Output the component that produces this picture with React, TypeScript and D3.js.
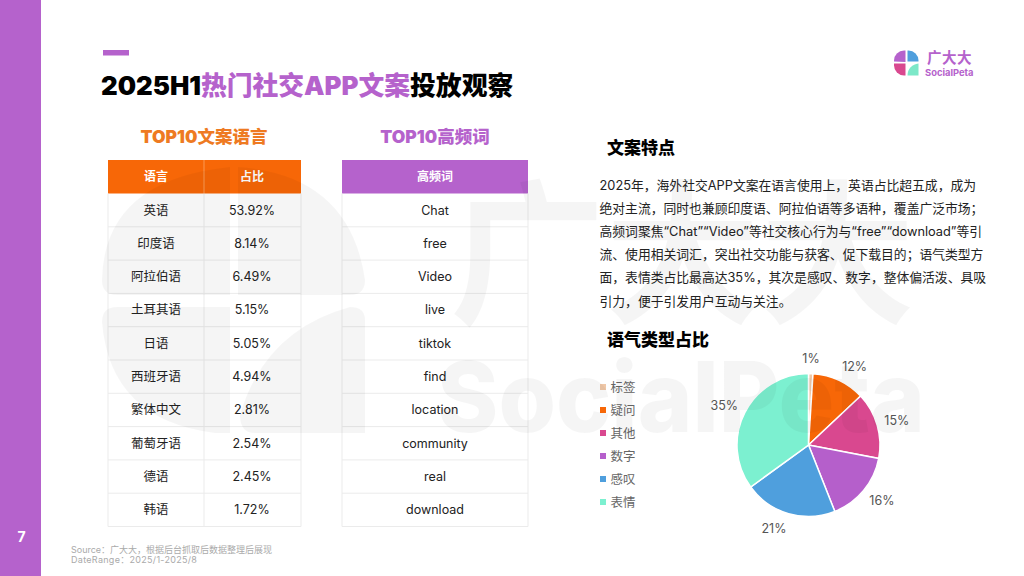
import React from "react";
import * as d3 from "d3";

const languages = ["英语", "印度语", "阿拉伯语", "土耳其语", "日语", "西班牙语", "繁体中文", "葡萄牙语", "德语", "韩语"];
const shares = ["53.92%", "8.14%", "6.49%", "5.15%", "5.05%", "4.94%", "2.81%", "2.54%", "2.45%", "1.72%"];
const words = ["Chat", "free", "Video", "live", "tiktok", "find", "location", "community", "real", "download"];
const toneLabels = ["标签", "疑问", "其他", "数字", "感叹", "表情"];
const toneValues = [1, 12, 15, 16, 21, 35];
const toneColors = ["#f0c8a8", "#f76707", "#d9488f", "#b55fcb", "#4f9fdd", "#7cf0d0"];
const paragraph = [
  "2025年，海外社交APP文案在语言使用上，英语占比超五成，成为",
  "绝对主流，同时也兼顾印度语、阿拉伯语等多语种，覆盖广泛市场；",
  "高频词聚焦“Chat”“Video”等社交核心行为与“free”“download”等引",
  "流、使用相关词汇，突出社交功能与获客、促下载目的；语气类型方",
  "面，表情类占比最高达35%，其次是感叹、数字，整体偏活泼、具吸",
  "引力，便于引发用户互动与关注。",
];

const CJK = "'Noto Sans CJK SC'";
const FONT = `Inter, ${CJK}, sans-serif`;
const PURPLE = "#b562cc";
const ORANGE = "#f76707";
const BORDER = "#ebebeb";
const TEXT = "#222";

export default function App() {
  const rowY = d3.scaleBand<number>().domain(d3.range(10)).range([193.5, 526.5]);
  const pie = d3.pie<number>().sort(null)(toneValues);
  const arc = d3.arc<d3.PieArcDatum<number>>().innerRadius(0).outerRadius(71.5);
  const labelArcX = d3.arc<d3.PieArcDatum<number>>().innerRadius(79).outerRadius(79);
  const labelArcY = d3.arc<d3.PieArcDatum<number>>().innerRadius(87).outerRadius(87);
  const legendY = d3.scalePoint<string>().domain(toneLabels).range([387, 502]);
  const cx = 808.5, cy = 445;

  return (
    <svg width={1024} height={576} viewBox="0 0 1024 576"
      style={{ position: "absolute", left: 0, top: 0, fontFamily: FONT }}>
      <rect width={1024} height={576} fill="#fff" />

      <rect x={0} y={0} width={41} height={576} fill={PURPLE} />
      <text x={21.5} y={542} textAnchor="middle" fontSize={14} fontWeight={700} fill="#fff">7</text>

      <rect x={103} y={50} width={26} height={5.5} fill={PURPLE} />
      <text x={101} y={95} fontSize={25.8} fontWeight={900} fill="#000">
        2025H1<tspan fill={PURPLE}>热门社交APP文案</tspan>投放观察
      </text>

      {/* logo */}
      <g>
        <path d="M894 61.5v-1a10 10 0 0 1 10-10h1.5v11.5z" fill="#b562cc" />
        <path d="M907.5 50.5h1a10 10 0 0 1 10 10v1h-11z" fill="#4f9fdd" />
        <path d="M894 63.5h11.5v12h-1.5a10 10 0 0 1-10-10z" fill="#d9488f" />
        <path d="M918.5 63.5v12h-11a12 12 0 0 1 11-12z" fill="#7ce8c8" />
        <text x={927} y={63} fontSize={14.5} fontWeight={700} fill={PURPLE} letterSpacing={0.5}>广大大</text>
        <text x={925} y={76} fontSize={9.4} fontWeight={700} fill={PURPLE}>SocialPeta</text>
      </g>

      {/* Language table */}
      <text x={204} y={143} textAnchor="middle" fontSize={17.5} fontWeight={900} fill="#ee7a22">TOP10文案语言</text>
      <rect x={108} y={160} width={193} height={33.5} fill={ORANGE} />
      <line x1={204} x2={204} y1={160} y2={193.5} stroke="#fb9a55" />
      <text x={156} y={181} textAnchor="middle" fontSize={12} fontWeight={700} fill="#fff">语言</text>
      <text x={252} y={181} textAnchor="middle" fontSize={12} fontWeight={700} fill="#fff">占比</text>
      {languages.map((l, i) => (
        <g key={l}>
          <line x1={108} x2={301} y1={rowY(i)! + rowY.bandwidth()} y2={rowY(i)! + rowY.bandwidth()} stroke={BORDER} />
          <text x={156} y={rowY(i)! + 21} textAnchor="middle" fontSize={12.5} fill={TEXT}>{l}</text>
          <text x={252} y={rowY(i)! + 21} textAnchor="middle" fontSize={12.5} fill={TEXT}>{shares[i]}</text>
        </g>
      ))}
      {[108, 204, 301].map((x) => <line key={x} x1={x} x2={x} y1={193.5} y2={526.5} stroke={BORDER} />)}

      {/* Word table */}
      <text x={435} y={143} textAnchor="middle" fontSize={17.5} fontWeight={900} fill={PURPLE}>TOP10高频词</text>
      <rect x={342} y={160} width={186} height={33.5} fill={PURPLE} />
      <text x={435} y={181} textAnchor="middle" fontSize={12} fontWeight={700} fill="#fff">高频词</text>
      {words.map((w, i) => (
        <g key={w}>
          <line x1={342} x2={528} y1={rowY(i)! + rowY.bandwidth()} y2={rowY(i)! + rowY.bandwidth()} stroke={BORDER} />
          <text x={435} y={rowY(i)! + 21} textAnchor="middle" fontSize={12.5} fill={TEXT}>{w}</text>
        </g>
      ))}
      {[342, 528].map((x) => <line key={x} x1={x} x2={x} y1={193.5} y2={526.5} stroke={BORDER} />)}

      <text x={71} y={552.5} fontSize={9} fill="#aaa">Source：广大大，根据后台抓取后数据整理后展现</text>
      <text x={71} y={562.5} fontSize={9} fill="#aaa" letterSpacing={0.3}>DateRange：2025/1-2025/8</text>

      {/* Copy */}
      <text x={607} y={154} fontSize={17} fontWeight={900} fill="#000">文案特点</text>
      {paragraph.map((p, i) => (
        <text key={i} x={599.5} y={190 + i * 23.1} fontSize={12.8} fill={TEXT}>{p}</text>
      ))}

      <text x={607} y={346} fontSize={17} fontWeight={900} fill="#000">语气类型占比</text>

      {/* Legend */}
      {toneLabels.map((t, i) => (
        <g key={t}>
          <rect x={600} y={legendY(t)! - 3} width={6} height={6} fill={toneColors[i]} />
          <text x={610.5} y={legendY(t)! + 4.5} fontSize={12.5} fill="#666">{t}</text>
        </g>
      ))}

      {/* Pie */}
      <g transform={`translate(${cx},${cy})`}>
        {pie.map((d, i) => (
          <path key={i} d={arc(d) ?? ""} fill={toneColors[i]} stroke="#fff" strokeWidth={1.5} />
        ))}
        {pie.map((d, i) => {
          const x = labelArcX.centroid(d)[0];
          const y = labelArcY.centroid(d)[1];
          const anchor = Math.abs(x) < 8 ? "middle" : x > 0 ? "start" : "end";
          return (
            <text key={i} x={x} y={y + 4.5} textAnchor={anchor} fontSize={12.5} fill="#555">
              {toneValues[i]}%
            </text>
          );
        })}
      </g>

      {/* watermark, laid over everything */}
      <g fill="#000" fillOpacity={0.04} style={{ pointerEvents: "none" }}>
        <text x={450} y={311} fontSize={155} fontWeight={700} fontFamily={CJK}>广大大</text>
        <text x={437} y={432} fontSize={98} fontWeight={800} textLength={488} lengthAdjust="spacingAndGlyphs">SocialPeta</text>
        <path d="M102 280Q104 180 230 167V295H117Q102 295 102 280z" />
        <path d="M238 167Q350 175 365 280Q365 295 350 295H238z" />
        <path d="M102 322Q102 307 117 307H230V433H215Q110 420 102 322z" />
        <path d="M365 320V433H255Q240 433 240 415Q265 330 350 307Q365 307 365 320z" />
      </g>
    </svg>
  );
}
